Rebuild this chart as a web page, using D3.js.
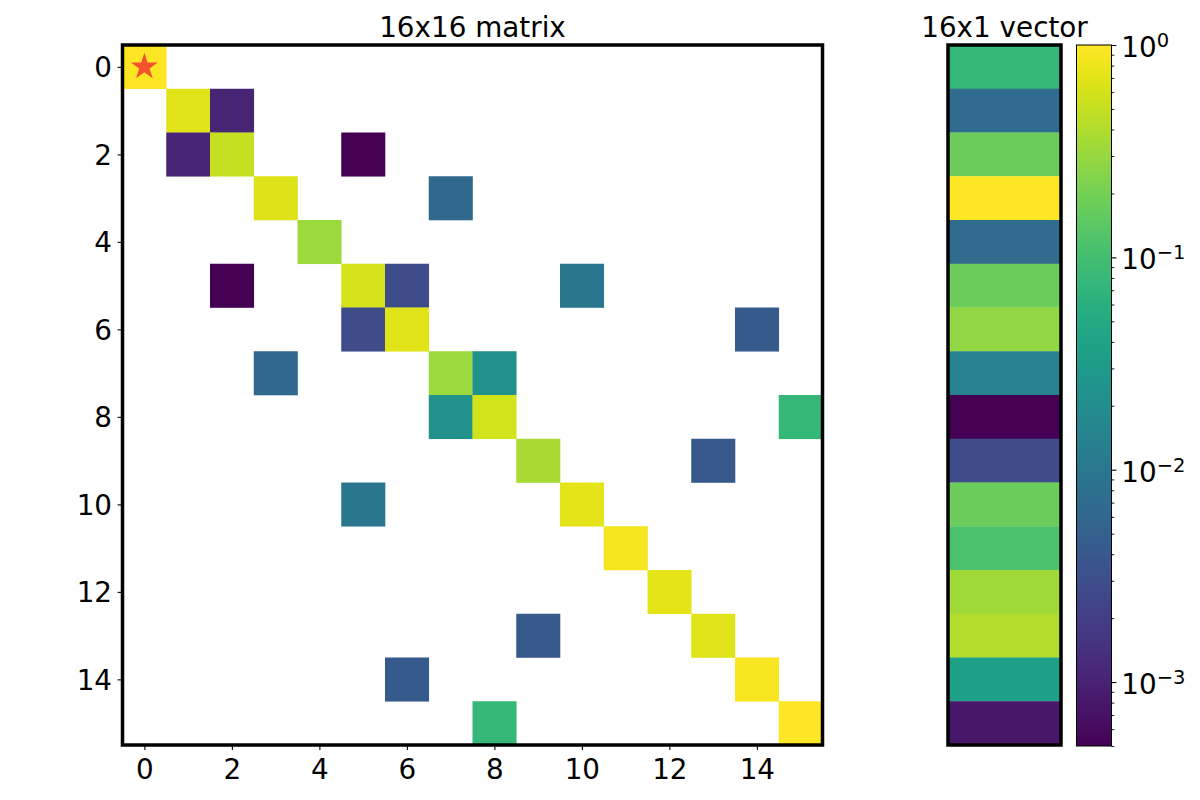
<!DOCTYPE html>
<html>
<head>
<meta charset="utf-8">
<script src="https://cdn.jsdelivr.net/npm/d3@7"></script>
<style>
  body { margin: 0; background: #fff; }
  text { font-family: "DejaVu Sans", sans-serif; }
</style>
</head>
<body>
<div id="chart"></div>
<script>
// sparse 16x16 matrix (row, col, value), zeros are left blank
const entryRow = [0, 1, 1, 2, 2, 2, 3, 3, 4, 5, 5, 5, 5, 6, 6, 6, 7, 7, 7, 8, 8, 8, 9, 9, 10, 10, 11, 12, 13, 13, 14, 14, 15, 15];
const entryCol = [0, 1, 2, 1, 2, 5, 3, 7, 4, 2, 5, 6, 10, 5, 6, 14, 3, 7, 8, 7, 8, 15, 9, 13, 5, 10, 11, 12, 9, 13, 6, 14, 8, 15];
const entryVal = [
  1.0,
  0.68, 1.07e-3,
  1.07e-3, 0.52, 5.1e-4,
  0.66, 6.4e-3,
  0.32,
  5.1e-4, 0.62, 2.8e-3, 0.010,
  2.8e-3, 0.70, 4.2e-3,
  6.4e-3, 0.32, 0.0224,
  0.0224, 0.60, 0.078,
  0.37, 4.1e-3,
  0.010, 0.74,
  0.89,
  0.74,
  4.1e-3, 0.70,
  4.2e-3, 0.94,
  0.078, 1.0
];
// 16x1 vector
const vectorVal = [0.08, 7.1e-3, 0.18, 1.0, 7.1e-3, 0.18, 0.285, 0.0142,
                   5e-4, 2.8e-3, 0.18, 0.115, 0.34, 0.42, 0.038, 8e-4];

const matrixTicks = [0, 2, 4, 6, 8, 10, 12, 14];
const cbMajor = [1e-3, 1e-2, 1e-1, 1];
const cbMajorExp = ["−3", "−2", "−1", "0"];
const vmin = 5e-4, vmax = 1;
const starCell = [0, 0];

const W = 1200, H = 800;
const fontSize = 27.8;

const svg = d3.select("#chart").append("svg")
  .attr("width", W).attr("height", H)
  .style("background", "#fff");

const color = d3.scaleSequentialLog(d3.interpolateViridis).domain([vmin, vmax]);

// ---------- matrix ----------
const mx = d3.scaleLinear().domain([-0.5, 15.5]).range([122.5, 822.5]);
const my = d3.scaleLinear().domain([-0.5, 15.5]).range([45, 745]);
const cell = mx(1) - mx(0);

const entries = entryVal.map((v, i) => ({ r: entryRow[i], c: entryCol[i], v }));

const mat = svg.append("g").attr("class", "matrix");
mat.selectAll("rect")
  .data(entries)
  .enter()
  .append("rect")
  .attr("x", (d) => mx(d.c - 0.5))
  .attr("y", (d) => my(d.r - 0.5))
  .attr("width", cell + 0.3)
  .attr("height", cell + 0.3)
  .attr("fill", (d) => color(d.v));

mat.append("path")
  .attr("d", d3.symbol(d3.symbolStar, 226)())
  .attr("transform", `translate(${mx(starCell[1])},${my(starCell[0])})`)
  .attr("fill", "#f6522e");

const xAxis = mat.append("g")
  .attr("transform", "translate(0,745)")
  .call(d3.axisBottom(mx).tickValues(matrixTicks).tickSize(4.9));
xAxis.select(".domain").remove();
xAxis.selectAll("line").attr("stroke", "#000").attr("stroke-width", 1.1);
xAxis.selectAll("text")
  .attr("dy", null).attr("y", 34)
  .attr("fill", "#000")
  .style("font-size", fontSize + "px")
  .style("font-family", "DejaVu Sans");

const yAxis = mat.append("g")
  .attr("transform", "translate(122.5,0)")
  .call(d3.axisLeft(my).tickValues(matrixTicks).tickSize(4.9));
yAxis.select(".domain").remove();
yAxis.selectAll("line").attr("stroke", "#000").attr("stroke-width", 1.1);
yAxis.selectAll("text")
  .attr("dy", null).attr("x", -10.5).attr("y", 10)
  .attr("fill", "#000")
  .style("font-size", fontSize + "px")
  .style("font-family", "DejaVu Sans");

mat.append("rect")
  .attr("x", 122.5).attr("y", 45).attr("width", 700).attr("height", 700)
  .attr("fill", "none").attr("stroke", "#000").attr("stroke-width", 3.5);

svg.append("text")
  .attr("x", (122.5 + 822.5) / 2).attr("y", 37)
  .attr("text-anchor", "middle")
  .style("font-size", fontSize + "px")
  .text("16x16 matrix");

// ---------- vector ----------
const vx0 = 948, vx1 = 1061;
const vy = d3.scaleBand().domain(d3.range(vectorVal.length)).range([45, 745]);

const vec = svg.append("g").attr("class", "vector");
vec.selectAll("rect")
  .data(vectorVal)
  .enter()
  .append("rect")
  .attr("x", vx0)
  .attr("y", (d, i) => vy(i))
  .attr("width", vx1 - vx0)
  .attr("height", vy.bandwidth() + 0.3)
  .attr("fill", (d) => color(d));

vec.append("rect")
  .attr("x", vx0).attr("y", 45).attr("width", vx1 - vx0).attr("height", 700)
  .attr("fill", "none").attr("stroke", "#000").attr("stroke-width", 3.5);

svg.append("text")
  .attr("x", (vx0 + vx1) / 2).attr("y", 37)
  .attr("text-anchor", "middle")
  .style("font-size", fontSize + "px")
  .text("16x1 vector");

// ---------- colorbar ----------
const cbx0 = 1076.5, cbx1 = 1111.5;
const cby = d3.scaleLog().domain([vmin, vmax]).range([746, 45]);

const grad = svg.append("defs").append("linearGradient")
  .attr("id", "cbgrad")
  .attr("x1", 0).attr("y1", 1).attr("x2", 0).attr("y2", 0);
grad.selectAll("stop")
  .data(d3.range(0, 1.0001, 1 / 64))
  .enter()
  .append("stop")
  .attr("offset", (t) => t)
  .attr("stop-color", (t) => d3.interpolateViridis(t));

const cb = svg.append("g").attr("class", "colorbar");
cb.append("rect")
  .attr("x", cbx0).attr("y", 45).attr("width", cbx1 - cbx0).attr("height", 701)
  .attr("fill", "url(#cbgrad)")
  .attr("stroke", "#000").attr("stroke-width", 1);

const cbMinor = [];
[1e-4, 1e-3, 1e-2, 1e-1].forEach((p) => {
  for (let k = 2; k <= 9; k++) {
    const v = k * p;
    if (v >= vmin && v < vmax) cbMinor.push(v);
  }
});

const minorAxis = cb.append("g")
  .attr("transform", `translate(${cbx1},0)`)
  .call(d3.axisRight(cby).tickValues(cbMinor).tickSize(2.8).tickFormat(""));
minorAxis.select(".domain").remove();
minorAxis.selectAll("line").attr("stroke", "#000").attr("stroke-width", 0.9);

const majorAxis = cb.append("g")
  .attr("transform", `translate(${cbx1},0)`)
  .call(d3.axisRight(cby).tickValues(cbMajor).tickSize(4.9).tickFormat(""));
majorAxis.select(".domain").remove();
majorAxis.selectAll("line").attr("stroke", "#000").attr("stroke-width", 1.1);

const cbLabels = cb.selectAll(".cblabel")
  .data(cbMajor)
  .enter()
  .append("text")
  .attr("class", "cblabel")
  .attr("x", cbx1 + 9.8)
  .attr("y", (d) => cby(d) + 12)
  .style("font-size", fontSize + "px");
cbLabels.append("tspan").text("10");
cbLabels.append("tspan")
  .attr("dy", -10)
  .style("font-size", "19.5px")
  .text((d, i) => cbMajorExp[i]);
</script>
</body>
</html>
